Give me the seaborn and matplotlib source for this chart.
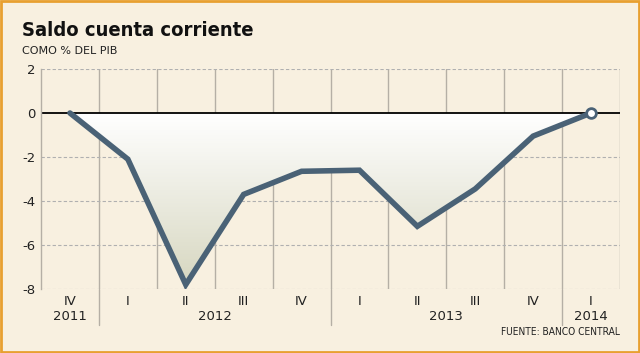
import numpy as np
import pandas as pd
import matplotlib
matplotlib.use("Agg")
import matplotlib.pyplot as plt
import seaborn as sns
from matplotlib.colors import LinearSegmentedColormap
from matplotlib.patches import Rectangle
import matplotlib.transforms as mtransforms

quarters = ["IV", "I", "II", "III", "IV", "I", "II", "III", "IV", "I"]
years = ["2011", "2012", "2013", "2014"]
year_centers = [0, 2.5, 6.5, 9]
values = [0.0, -2.1, -7.8, -3.7, -2.65, -2.6, -5.15, -3.45, -1.05, 0.0]
yticks = [2, 0, -2, -4, -6, -8]

sns.set_theme(style="white")
plt.rcParams['font.family'] = ['DejaVu Sans']

bg = "#F8F0E0"
line_c = "#4A6276"

fig = plt.figure(figsize=(6.4, 3.53), dpi=100, facecolor=bg)
ax = fig.add_axes([41/640, 1-289/353, 579/640, 220/353])
ax.set_facecolor(bg)

df = pd.DataFrame({"x": np.arange(len(values)), "y": values})

# gradient fill between line and zero
poly = ax.fill_between(df["x"], df["y"], 0, color="none", lw=0)
cmap = LinearSegmentedColormap.from_list("g", ["#FFFFFF", "#D6D6BF"])
grad = np.linspace(0, 1, 256).reshape(-1, 1)
im = ax.imshow(grad, cmap=cmap, extent=[-0.5, 9.5, -8, 0], origin="upper",
               aspect="auto", zorder=1)
im.set_clip_path(poly.get_paths()[0], transform=ax.transData)

# grid
for xv in np.arange(0.5, 10, 1):
    ax.axvline(xv, color="#B5AFA5", lw=1, zorder=0.5)
for yv in [2, -2, -4, -6, -8]:
    ax.axhline(yv, color="#B0B0B0", lw=0.8, ls=(0, (3, 2)), zorder=0.5)
ax.axhline(0, color="black", lw=1.3, zorder=2)

sns.lineplot(data=df, x="x", y="y", ax=ax, color=line_c, lw=4.0,
             zorder=3, solid_joinstyle="miter")
ax.plot(df["x"].iloc[-1], df["y"].iloc[-1], "o", ms=7, mfc="white",
        mec=line_c, mew=2, zorder=4)

ax.set_xlim(-0.5, 9.5)
ax.set_ylim(-8, 2)
ax.set_yticks(yticks)
ax.set_yticklabels([str(v) for v in yticks], fontsize=9.5, color="#222222")
ax.set_xticks(range(len(quarters)))
ax.set_xticklabels(quarters, fontsize=9.5, color="#222222")
ax.tick_params(axis="both", length=0, pad=4)
ax.set_xlabel("")
ax.set_ylabel("")
for s in ["top", "right", "bottom"]:
    ax.spines[s].set_visible(False)
ax.spines["left"].set_color("#B5AFA5")
ax.spines["left"].set_linewidth(1)

trans = mtransforms.blended_transform_factory(ax.transData, fig.transFigure)
for yr, xc in zip(years, year_centers):
    ax.text(xc, 1-317/353, yr, transform=trans, ha="center", va="center",
            fontsize=9.5, color="#222222")
for xv in [0.5, 4.5, 8.5]:
    ax.plot([xv, xv], [1-289/353, 1-325/353], transform=trans,
            color="#B5AFA5", lw=1, clip_on=False)

fig.text(22/640, 1-30/353, "Saldo cuenta corriente", fontsize=14.5,
         fontweight="bold", fontstretch="condensed", ha="left", va="center",
         color="#111111")
fig.text(22/640, 1-51/353, "COMO % DEL PIB", fontsize=8, ha="left",
         va="center", color="#222222")
fig.text(620/640, 1-332/353, "FUENTE: BANCO CENTRAL", fontsize=7.3,
         fontstretch="condensed", ha="right", va="center", color="#222222")

fig.patches.append(Rectangle((0.0015, 0.002), 0.997, 0.995, transform=fig.transFigure,
                             fill=False, ec="#E8A030", lw=2))

fig.savefig("out.png", dpi=100, facecolor=bg)
